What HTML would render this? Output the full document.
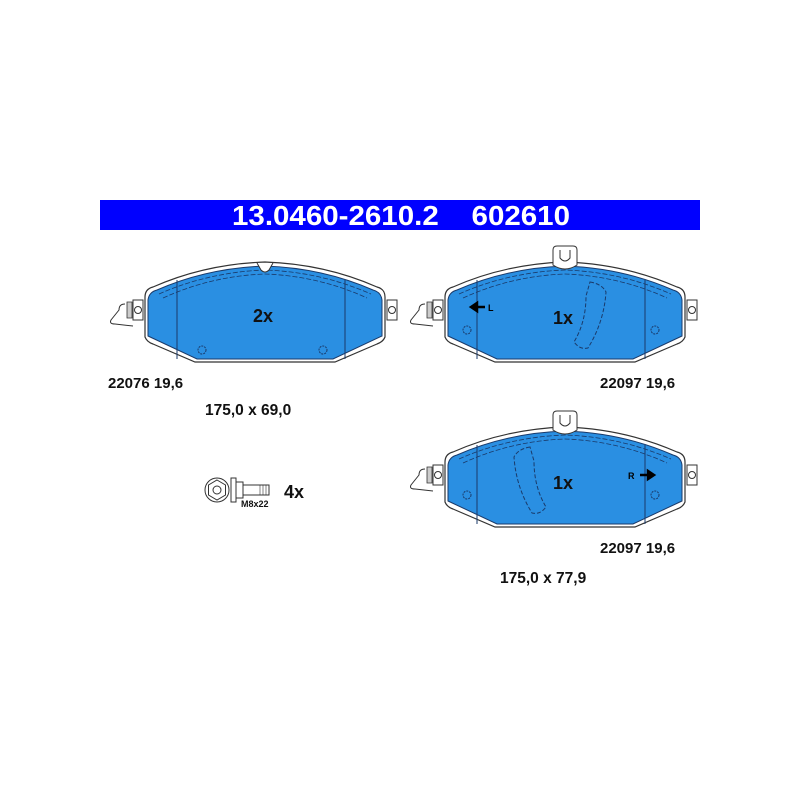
<!DOCTYPE html>
<html><head><style>
body{margin:0;background:#fff;width:800px;height:800px;overflow:hidden}
</style></head><body>
<svg width="800" height="800" viewBox="0 0 800 800" xmlns="http://www.w3.org/2000/svg" font-family="Liberation Sans, sans-serif" font-weight="bold">
<defs>
<g id="pad">
  <path d="M0,35 Q0,27 8,25 Q60,2 120,0 Q180,2 232,25 Q240,27 240,35 L240,75 Q238,80 232,82 L190,100 L50,100 L8,82 Q2,80 0,75 Z" fill="#fff" stroke="#333" stroke-width="1.2"/>
  <path d="M3,38 Q4,30 12,28 Q62,6 120,4 Q178,6 228,28 Q236,30 237,38 L237,74 L188,97 L52,97 L3,74 Z" fill="#2a8fe2" stroke="#1a3a6a" stroke-width="1"/>
  <path d="M14,32 Q64,10 120,8 Q176,10 226,32" fill="none" stroke="#1a3a6a" stroke-width="0.8" stroke-dasharray="5,2"/>
  <path d="M18,36 Q66,14 120,12 Q174,14 222,36" fill="none" stroke="#1a3a6a" stroke-width="0.8" stroke-dasharray="5,2"/>
  <line x1="32" y1="18" x2="32" y2="97" stroke="#1a3a6a" stroke-width="1"/>
  <line x1="200" y1="18" x2="200" y2="97" stroke="#1a3a6a" stroke-width="1"/>
  <rect x="-12" y="38" width="10" height="20" fill="#fff" stroke="#333"/>
  <circle cx="-7" cy="48" r="3.5" fill="none" stroke="#333"/>
  <rect x="242" y="38" width="10" height="20" fill="#fff" stroke="#333"/>
  <circle cx="247" cy="48" r="3.5" fill="none" stroke="#333"/>
  <path d="M-18,40 h5 v16 h-5 z" fill="#ccc" stroke="#333" stroke-width="0.8"/>
  <path d="M-20,42 q-6,0 -6,6 l-8,10 q-2,4 4,4 l18,2" fill="none" stroke="#333" stroke-width="1"/>
</g>
</defs>
<rect x="100" y="200" width="600" height="30" fill="#0000ff"/>
<text x="401" y="225" fill="#fff" font-size="28" text-anchor="middle" textLength="338" lengthAdjust="spacingAndGlyphs">13.0460-2610.2 &#160;&#160; 602610</text>

<g transform="translate(145,262)">
  <use href="#pad"/>
  <path d="M112,1 l4,7 q4,4 8,0 l4,-7" fill="#fff" stroke="#333"/>
  <circle cx="57" cy="88" r="4" fill="none" stroke="#1a3a6a" stroke-dasharray="2,1"/>
  <circle cx="178" cy="88" r="4" fill="none" stroke="#1a3a6a" stroke-dasharray="2,1"/>
</g>
<text x="263" y="322" font-size="18" text-anchor="middle" fill="#111">2x</text>
<text x="108" y="388" font-size="15" fill="#111">22076 19,6</text>
<text x="205" y="415" font-size="15.5" fill="#111">175,0 x 69,0</text>

<g transform="translate(445,262)">
  <use href="#pad"/>
  <path d="M108,3 l0,-15 q0,-4 4,-4 l16,0 q4,0 4,4 l0,15 q-12,8 -24,0 z" fill="#fff" stroke="#333"/>
  <path d="M115,-12 v8 q5,6 10,0 v-8" fill="none" stroke="#333"/>
  <path d="M145,20 q12,2 16,10 q-2,30 -18,56 q-8,2 -14,-6 q12,-20 12,-46 z" fill="none" stroke="#1a3a6a" stroke-dasharray="4,2"/>
  <circle cx="22" cy="68" r="4" fill="none" stroke="#1a3a6a" stroke-dasharray="2,1"/>
  <circle cx="210" cy="68" r="4" fill="none" stroke="#1a3a6a" stroke-dasharray="2,1"/>
  <path d="M26,45 h14 M26,45 l6,-4 v8 z" stroke="#000" stroke-width="2.5" fill="#000"/>
  <text x="43" y="49" font-size="9" fill="#000">L</text>
</g>
<text x="563" y="324" font-size="18" text-anchor="middle" fill="#111">1x</text>
<text x="600" y="388" font-size="15" fill="#111">22097 19,6</text>

<g transform="translate(445,427)">
  <use href="#pad"/>
  <path d="M108,3 l0,-15 q0,-4 4,-4 l16,0 q4,0 4,4 l0,15 q-12,8 -24,0 z" fill="#fff" stroke="#333"/>
  <path d="M115,-12 v8 q5,6 10,0 v-8" fill="none" stroke="#333"/>
  <path d="M85,20 q-12,2 -16,10 q2,30 18,56 q8,2 14,-6 q-12,-20 -12,-46 z" fill="none" stroke="#1a3a6a" stroke-dasharray="4,2"/>
  <circle cx="22" cy="68" r="4" fill="none" stroke="#1a3a6a" stroke-dasharray="2,1"/>
  <circle cx="210" cy="68" r="4" fill="none" stroke="#1a3a6a" stroke-dasharray="2,1"/>
  <path d="M195,48 h14 M209,48 l-6,-4 v8 z" stroke="#000" stroke-width="2.5" fill="#000"/>
  <text x="183" y="52" font-size="9" fill="#000">R</text>
</g>
<text x="563" y="489" font-size="18" text-anchor="middle" fill="#111">1x</text>
<text x="600" y="553" font-size="15" fill="#111">22097 19,6</text>
<text x="500" y="583" font-size="15.5" fill="#111">175,0 x 77,9</text>

<g stroke="#333" fill="none">
  <circle cx="217" cy="490" r="12"/>
  <path d="M217,480 l8.5,5 v10 l-8.5,5 l-8.5,-5 v-10 z"/>
  <circle cx="217" cy="490" r="4"/>
  <rect x="231" y="478" width="5" height="24" fill="#fff"/>
  <rect x="236" y="482" width="7" height="16" fill="#fff"/>
  <rect x="243" y="485" width="26" height="10" fill="#fff"/>
  <path d="M260,485 v10 M263,485 v10 M266,485 v10" stroke-width="0.6"/>
</g>
<text x="241" y="507" font-size="9" fill="#111">M8x22</text>
<text x="284" y="498" font-size="18" fill="#111">4x</text>
</svg>
</body></html>
